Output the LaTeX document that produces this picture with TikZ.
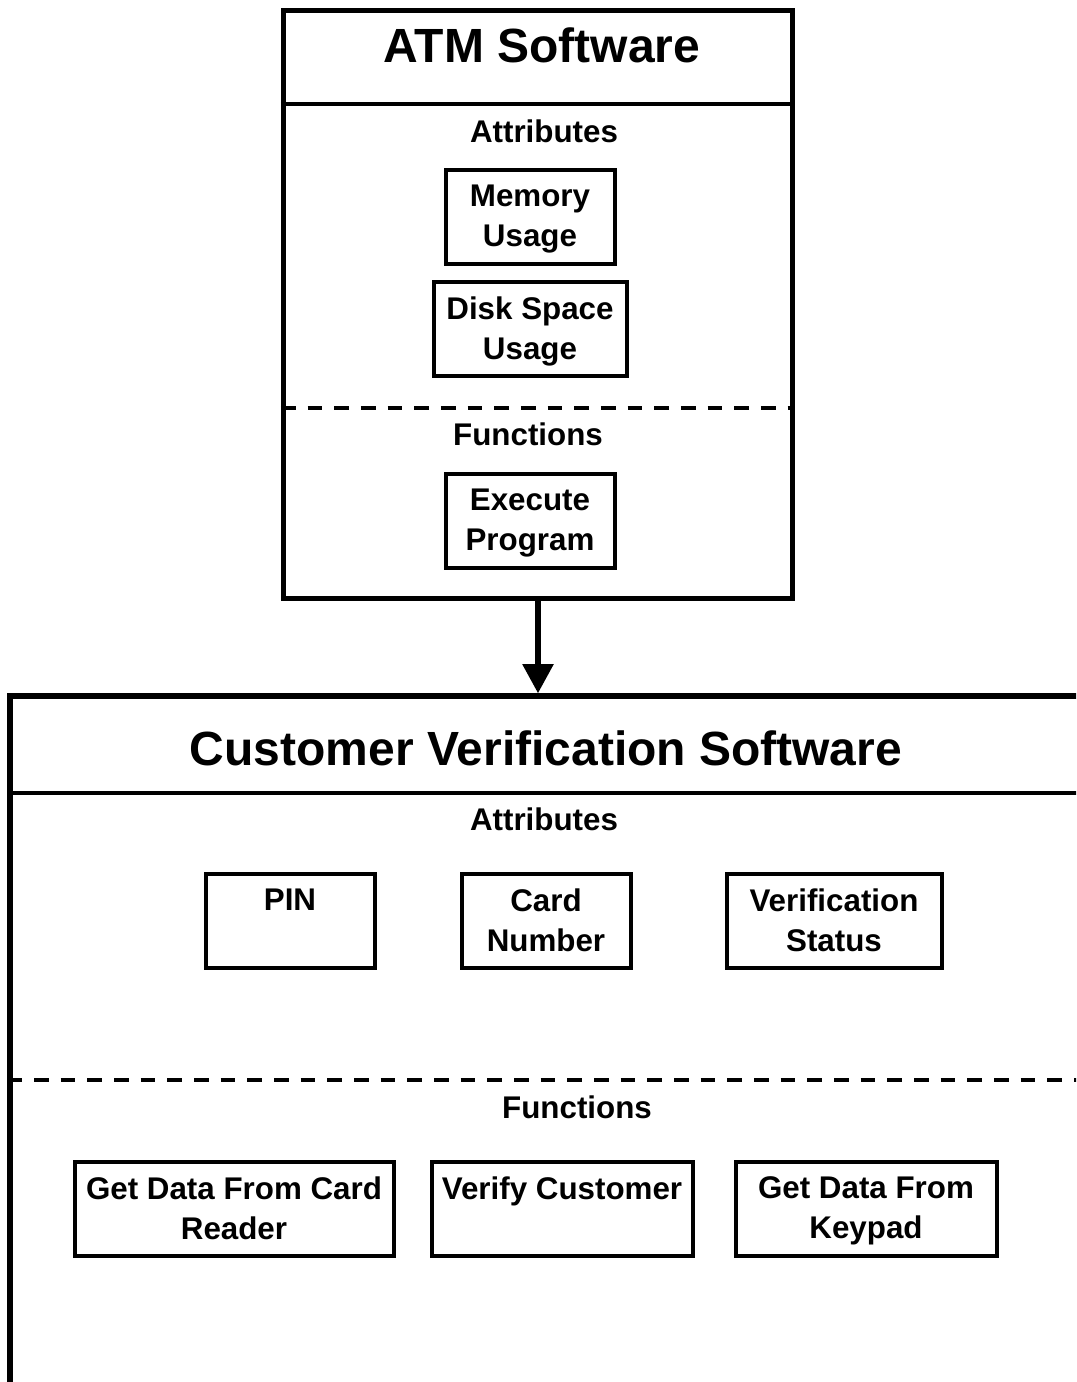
\documentclass[tikz,border=0pt]{standalone}
\usepackage{fontspec}
\setmainfont{Liberation Sans}
\usetikzlibrary{positioning,arrows.meta}

\tikzset{
  outerbox/.style={draw, line width=4pt, inner sep=0pt},
  partbox/.style={draw, line width=3pt, inner sep=0pt, minimum height=70.5pt},
  parttext/.style={inner sep=0pt, align=center, font=\fontsize{23.5pt}{30pt}\selectfont\bfseries},
  headtext/.style={anchor=base, inner sep=0pt, font=\fontsize{36pt}{40pt}\selectfont\bfseries},
  secttext/.style={anchor=base, inner sep=0pt, font=\fontsize{23.5pt}{28pt}\selectfont\bfseries},
  sepline/.style={line width=3pt},
  dashline/.style={line width=3pt, dash pattern=on 11pt off 9pt},
}

\begin{document}
\begin{tikzpicture}[x=0.75pt,y=-0.75pt]
    \clip (0,0) rectangle (1076,1382);

    % ATM software class
    \node[outerbox, minimum width=381.75pt, minimum height=441pt] (atm) at (538,304.5) {};
    \node[headtext] (atmt) at (542,62) {ATM Software};
    \draw[sepline] (atm.west |- 0,104) -- (atm.east |- 0,104);
    \node[secttext] (atma) at (544,142) {Attributes};
    \node[partbox, minimum width=126.75pt] (mem) at (530,216.5) {};
    \node[parttext, below=13pt of mem.north] (memt) {Memory\\Usage};
    \node[partbox, minimum width=144.75pt] (disk) at (530,328.5) {};
    \node[parttext, below=13pt of disk.north] (diskt) {Disk Space\\Usage};
    \draw[dashline] (atm.west |- 0,408) -- (atm.east |- 0,408);
    \node[secttext] (atmf) at (528,445) {Functions};
    \node[partbox, minimum width=126.75pt] (exec) at (530,520.5) {};
    \node[parttext, below=13pt of exec.north] (exect) {Execute\\Program};

    % customer verification class
    \node[outerbox, minimum width=892.5pt, minimum height=603pt] (cvs) at (605,1098) {};
    \node[headtext] (cvst) at (546,765) {Customer Verification Software};
    \draw[sepline] (cvs.west |- 0,793) -- (cvs.east |- 0,793);
    \node[secttext] (cvsa) at (544,830) {Attributes};
    \node[partbox, minimum width=126.75pt] (pin) at (290,920.5) {};
    \node[parttext, below=13pt of pin.north] (pint) {PIN};
    \node[partbox, minimum width=126.75pt] (card) at (546,920.5) {};
    \node[parttext, below=13pt of card.north] (cardt) {Card\\Number};
    \node[partbox, minimum width=161.25pt] (stat) at (834,920.5) {};
    \node[parttext, below=13pt of stat.north] (statt) {Verification\\Status};
    \draw[dashline] (cvs.west |- 0,1080) -- (cvs.east |- 0,1080);
    \node[secttext] (cvsf) at (577,1118) {Functions};
    \node[partbox, minimum width=239.25pt] (getcard) at (234,1208.5) {};
    \node[parttext, below=13pt of getcard.north] (getcardt) {Get Data From Card\\Reader};
    \node[partbox, minimum width=195.75pt] (verify) at (562,1208.5) {};
    \node[parttext, below=13pt of verify.north] (verifyt) {Verify Customer};
    \node[partbox, minimum width=195.75pt] (getkey) at (866,1208.5) {};
    \node[parttext, below=13pt of getkey.north] (getkeyt) {Get Data From\\Keypad};

    % link
    \draw[line width=4.5pt, -{Triangle[length=22pt,width=22.5pt]}] (atm.south) -- (atm.south |- cvs.north);
\end{tikzpicture}
\end{document}
